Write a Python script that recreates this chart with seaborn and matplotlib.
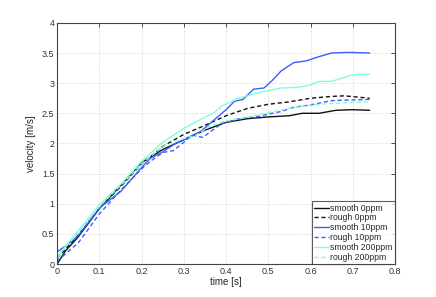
import numpy as np
import pandas as pd
import matplotlib
matplotlib.use("Agg")
import matplotlib.pyplot as plt
import seaborn as sns

# data (time [s], velocity [m/s])
t_smooth_0 = [0, 0.02, 0.05, 0.1, 0.15, 0.2, 0.25, 0.3, 0.35, 0.4, 0.45, 0.5, 0.55, 0.58, 0.62, 0.66, 0.7, 0.74]
v_smooth_0 = [0.0, 0.22, 0.45, 0.92, 1.3, 1.68, 1.9, 2.06, 2.22, 2.35, 2.41, 2.44, 2.46, 2.50, 2.50, 2.55, 2.56, 2.55]

t_rough_0 = [0, 0.02, 0.05, 0.1, 0.15, 0.2, 0.25, 0.3, 0.35, 0.4, 0.45, 0.5, 0.55, 0.6, 0.65, 0.68, 0.71, 0.74]
v_rough_0 = [0.1, 0.25, 0.48, 0.93, 1.28, 1.66, 1.95, 2.15, 2.3, 2.46, 2.58, 2.65, 2.69, 2.75, 2.78, 2.79, 2.77, 2.75]

t_smooth_10 = [0, 0.02, 0.05, 0.1, 0.15, 0.2, 0.22, 0.25, 0.28, 0.31, 0.34, 0.37, 0.4, 0.42, 0.44,
               0.465, 0.49, 0.51, 0.53, 0.56, 0.59, 0.62, 0.65, 0.69, 0.74]
v_smooth_10 = [0.2, 0.3, 0.47, 0.93, 1.2, 1.6, 1.75, 1.86, 2.0, 2.1, 2.2, 2.38, 2.56, 2.70, 2.73,
               2.90, 2.92, 3.05, 3.2, 3.34, 3.37, 3.44, 3.5, 3.51, 3.5]

t_rough_10 = [0, 0.02, 0.05, 0.1, 0.15, 0.2, 0.22, 0.25, 0.275, 0.3, 0.32, 0.345, 0.36, 0.39, 0.43,
              0.47, 0.53, 0.56, 0.6, 0.65, 0.69, 0.74]
v_rough_10 = [0.05, 0.17, 0.35, 0.83, 1.22, 1.58, 1.70, 1.85, 1.88, 2.02, 2.14, 2.10, 2.18, 2.33, 2.41,
              2.44, 2.53, 2.60, 2.64, 2.71, 2.72, 2.73]

t_smooth_200 = [0, 0.02, 0.05, 0.1, 0.15, 0.2, 0.25, 0.3, 0.34, 0.37, 0.39, 0.43, 0.47, 0.53, 0.57,
                0.6, 0.62, 0.65, 0.7, 0.74]
v_smooth_200 = [0.1, 0.3, 0.55, 0.98, 1.32, 1.7, 2.02, 2.25, 2.40, 2.50, 2.62, 2.75, 2.83, 2.92, 2.93,
                2.97, 3.03, 3.03, 3.14, 3.15]

t_rough_200 = [0, 0.02, 0.05, 0.1, 0.15, 0.2, 0.25, 0.3, 0.33, 0.36, 0.39, 0.44, 0.5, 0.57, 0.64, 0.7, 0.74]
v_rough_200 = [0.12, 0.28, 0.52, 0.95, 1.3, 1.66, 1.95, 2.08, 2.14, 2.28, 2.36, 2.42, 2.51, 2.61, 2.66, 2.68, 2.69]

labels = ["smooth 0ppm", "rough 0ppm", "smooth 10ppm", "rough 10ppm", "smooth 200ppm", "rough 200ppm"]
times = [t_smooth_0, t_rough_0, t_smooth_10, t_rough_10, t_smooth_200, t_rough_200]
vels = [v_smooth_0, v_rough_0, v_smooth_10, v_rough_10, v_smooth_200, v_rough_200]

frames = []
for lab, t, v in zip(labels, times, vels):
    frames.append(pd.DataFrame({"time": t, "velocity": v, "run": lab}))
df = pd.concat(frames, ignore_index=True)

colors = {"smooth 0ppm": "#111111", "rough 0ppm": "#111111",
          "smooth 10ppm": "#3f5cff", "rough 10ppm": "#3f5cff",
          "smooth 200ppm": "#7fffd8", "rough 200ppm": "#7fffd8"}
dashes = {"smooth 0ppm": "", "rough 0ppm": (3, 2),
          "smooth 10ppm": "", "rough 10ppm": (3, 2),
          "smooth 200ppm": "", "rough 200ppm": (3, 2)}

sns.set_style("white")
plt.rcParams["font.family"] = ["Liberation Sans", "DejaVu Sans"]

fig = plt.figure(figsize=(4.36, 2.97), dpi=100)
ax = fig.add_axes([0.131, 0.111, 0.775, 0.812])

sns.lineplot(data=df, x="time", y="velocity", hue="run", style="run",
             hue_order=labels, style_order=labels, palette=colors, dashes=dashes,
             linewidth=1.0, sort=False, estimator=None, ax=ax)

ax.set_xlim(0, 0.8)
ax.set_ylim(0, 4)
ax.set_xticks(np.arange(0, 0.81, 0.1))
ax.set_yticks(np.arange(0, 4.01, 0.5))
ax.set_xticklabels(["0", "0.1", "0.2", "0.3", "0.4", "0.5", "0.6", "0.7", "0.8"])
ax.set_yticklabels(["0", "0.5", "1", "1.5", "2", "2.5", "3", "3.5", "4"])
ax.grid(True, linestyle=(0, (1, 2)), color="#c4c4c4", linewidth=0.6)
ax.tick_params(direction="in", length=3, width=0.6, labelsize=6.5, colors="#333333",
               top=True, right=True, pad=2)
for s in ax.spines.values():
    s.set_color("#444444")
    s.set_linewidth(0.8)

ax.set_xlabel("time [s]", fontsize=7, labelpad=1)
ax.set_ylabel("velocity [m/s]", fontsize=7, labelpad=4)

leg = ax.legend(loc="lower right", fontsize=6.2, frameon=True, fancybox=False,
                borderaxespad=0, handlelength=1.8, handletextpad=0.15,
                labelspacing=0.1, borderpad=0.25)
leg.get_frame().set_edgecolor("#333333")
leg.get_frame().set_linewidth(0.8)

fig.savefig("out.png", dpi=100)
